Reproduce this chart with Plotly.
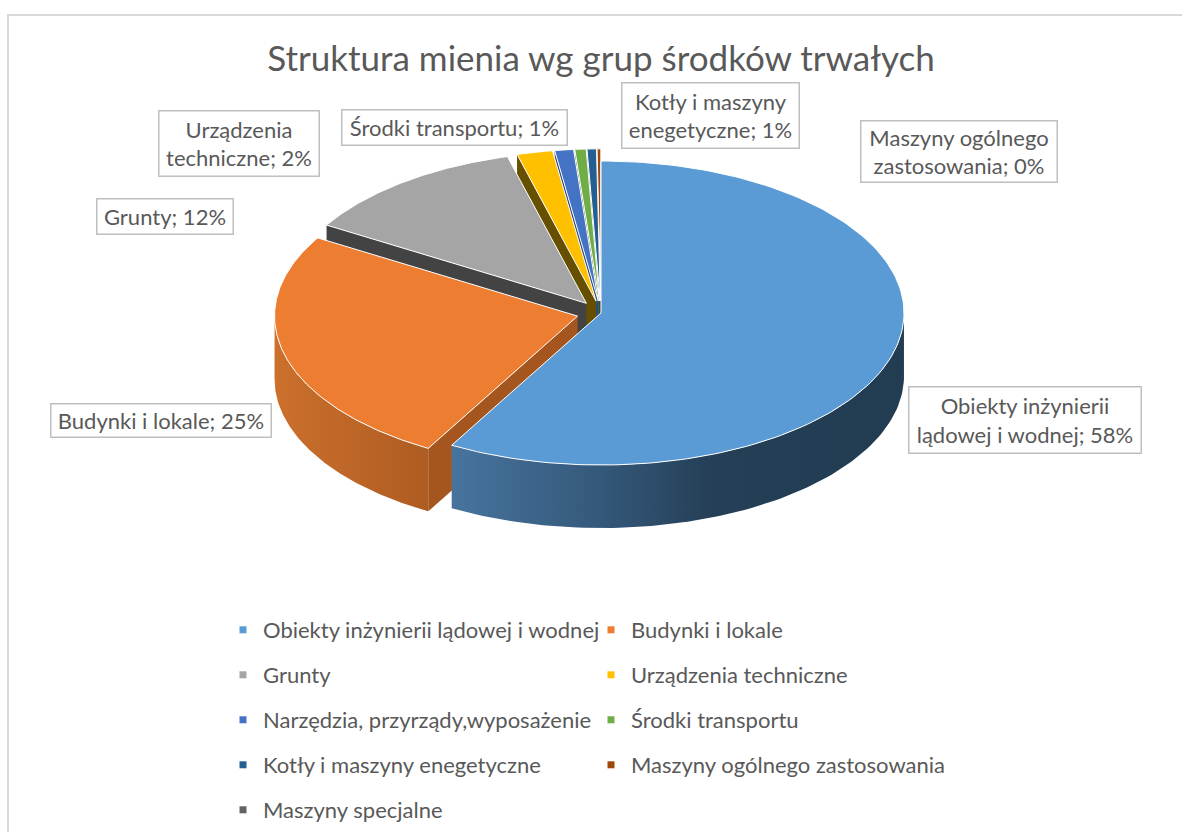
import numpy as np
import plotly.graph_objects as go

# ---- data ----
categories = ["Obiekty inżynierii lądowej i wodnej", "Budynki i lokale", "Grunty",
              "Urządzenia techniczne", "Narzędzia, przyrządy,wyposażenie", "Środki transportu",
              "Kotły i maszyny enegetyczne", "Maszyny ogólnego zastosowania", "Maszyny specjalne"]
values = [58.2, 25.4, 12.2, 1.9, 1.0, 0.6, 0.5, 0.2, 0.0]
colors = ["#5B9BD5", "#ED7D31", "#A5A5A5", "#FFC000", "#4472C4", "#70AD47", "#255E91", "#9E480E", "#636363"]
radial_colors = ["#2F5D85", "#A5561F", "#434343", "#665000", "#2A4A80", "#43682B", "#163856", "#5F2B08", "#3B3B3B"]
label_texts = ["Obiekty inżynierii<br>lądowej i wodnej; 58%", "Budynki i lokale; 25%", "Grunty; 12%",
               "Urządzenia<br>techniczne; 2%", "Środki transportu; 1%",
               "Kotły i maszyny<br>enegetyczne; 1%", "Maszyny ogólnego<br>zastosowania; 0%"]
title = "Struktura mienia wg grup środków trwałych"

# ---- geometry of the drawing ----
W, H = 1182, 832
CX, CY, RX, RY, DEPTH, EXPLODE = 601, 313, 303, 152, 63, 0.08
TEXT = "#595959"
FONT = "Lato"

label_boxes = [(908, 386, 1142, 454), (50, 403, 272, 438), (96, 198, 234, 235),
               (158, 110, 320, 177), (341, 109, 568, 146), (621, 82, 800, 149), (860, 120, 1058, 183)]
wall_gradients = {
    0: [[0, "#47749E"], [0.33, "#34587A"], [0.58, "#243F56"], [1, "#223C52"]],
    1: [[0, "#CC702C"], [1, "#AE5C22"]],
}

fig = go.Figure()
total = sum(values)
edges = np.concatenate([[0], np.cumsum(values)]) / total * 2 * np.pi


def point(theta, ox, oy):
    return ox + RX * np.sin(theta), oy - RY * np.cos(theta)


def poly(xs, ys, fill, group, line=None, gradient=None, lw=1):
    kw = {}
    if gradient:
        kw["fillgradient"] = dict(type="horizontal", colorscale=gradient)
    else:
        kw["fillcolor"] = fill
    fig.add_trace(go.Scatter(x=xs, y=ys, mode="lines", fill="toself", showlegend=False, hoverinfo="skip",
                             legendgroup=group,
                             line=dict(color=line or "rgba(0,0,0,0)", width=lw if line else 0), **kw))


# painter's order: back slices first, the unexploded first slice last
for i in reversed(range(len(values))):
    if values[i] <= 0:
        continue
    a, b = edges[i], edges[i + 1]
    mid = (a + b) / 2
    k = 0 if i == 0 else EXPLODE
    ox = CX + k * RX * np.sin(mid)
    oy = CY - k * RY * np.cos(mid)
    t = np.linspace(a, b, 160)
    ex, ey = point(t, ox, oy)
    g = categories[i]
    # radial face at the start edge
    if i > 0:
        sx, sy = point(a, ox, oy)
        poly([sx, ox, ox, sx, sx], [sy, oy, oy + DEPTH, sy + DEPTH, sy], radial_colors[i], g)
    # outer wall (front half only)
    front = (t > np.pi / 2) & (t < 3 * np.pi / 2)
    if front.any() and i in wall_gradients:
        wx, wy = ex[front], ey[front]
        poly(np.r_[wx, wx[::-1], wx[0]], np.r_[wy, wy[::-1] + DEPTH, wy[0]], None, g,
             gradient=wall_gradients[i])
    # top face
    poly(np.r_[ox, ex, ox], np.r_[oy, ey, oy], colors[i], g, line="#FFFFFF", lw=1)

# legend: one entry per legend block so the wide row pitch can be kept
col_x = [223, 591]
row_y = [630, 675, 720, 765, 810]
layout_legends = {}
for i, c in enumerate(categories):
    name = "legend" if i == 0 else f"legend{i + 1}"
    fig.add_trace(go.Scatter(x=[None], y=[None], mode="markers", name=c, legend=name, legendgroup=c,
                             marker=dict(symbol="square", size=7, color=colors[i])))
    layout_legends[name] = dict(x=col_x[i % 2] / W, y=1 - row_y[i // 2] / H, xanchor="left", yanchor="middle",
                                bgcolor="rgba(0,0,0,0)", itemwidth=30,
                                font=dict(family=FONT, size=22, color=TEXT))

# data labels
for txt, (x0, y0, x1, y1) in zip(label_texts, label_boxes):
    fig.add_annotation(x=(x0 + x1) / 2, y=(y0 + y1) / 2, xref="x", yref="y", text=txt, showarrow=False,
                       width=x1 - x0 - 3, height=y1 - y0 - 3, align="center", valign="middle",
                       bgcolor="#FFFFFF", bordercolor="#BFBFBF", borderwidth=1.5, borderpad=0,
                       font=dict(family=FONT, size=22, color=TEXT))

# chart frame
fig.add_shape(type="rect", x0=8, y0=15, x1=1200, y1=900, xref="x", yref="y",
              line=dict(color="#D9D9D9", width=2), layer="below")

fig.update_layout(width=W, height=H, autosize=False, margin=dict(l=0, r=0, t=0, b=0),
                  paper_bgcolor="#FFFFFF", plot_bgcolor="#FFFFFF",
                  title=dict(text=title, x=601 / W, xanchor="center", y=1 - 59 / H, yanchor="middle",
                             font=dict(family=FONT, size=35, color=TEXT)),
                  xaxis=dict(range=[0, W], visible=False, fixedrange=True),
                  yaxis=dict(range=[H, 0], visible=False, fixedrange=True),
                  **layout_legends)

fig.write_html("out.html", config={"displayModeBar": False},
               post_script="document.body.style.margin='0';document.documentElement.style.overflow='hidden';")
